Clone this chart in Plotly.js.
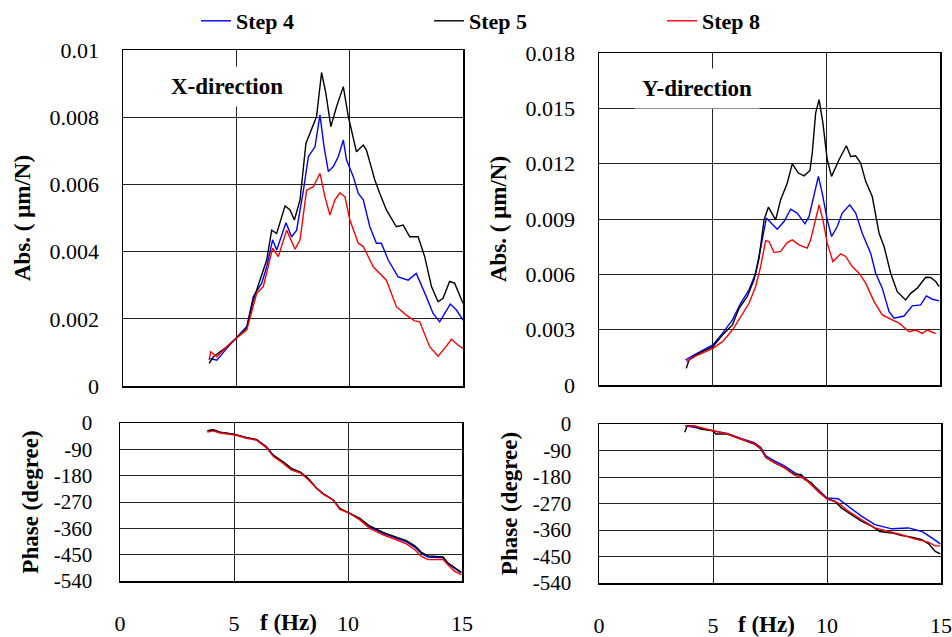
<!DOCTYPE html>
<html>
<head>
<meta charset="utf-8">
<script src="https://cdn.plot.ly/plotly-3.0.1.min.js"></script>
<style>html,body{margin:0;padding:0;background:#fff;}#chart{width:952px;height:637px;}</style>
</head>
<body>
<div id="chart"></div>
<script>
// ---------- X-direction amplitude ----------
const xAbsFreq4 = [3.85,4.14,4.58,5.0,5.46,5.75,6.12,6.34,6.60,6.78,7.19,7.44,7.66,7.96,8.18,8.47,8.69,8.87,9.06,9.28,9.50,9.72,9.86,10.16,10.38,10.60,10.89,11.18,11.40,11.70,12.14,12.58,12.94,13.38,13.68,13.97,14.19,14.44,14.71,15.0];
const xAbsStep4 = [0.00082,0.00077,0.00112,0.00142,0.00177,0.00266,0.00306,0.00355,0.00435,0.00405,0.00486,0.00444,0.00464,0.00583,0.00683,0.00712,0.00807,0.00712,0.00638,0.00653,0.00683,0.00732,0.00673,0.00623,0.00573,0.00554,0.00474,0.00425,0.00425,0.00375,0.00325,0.00315,0.00335,0.00266,0.00216,0.00191,0.00216,0.00244,0.00226,0.00196];
const xAbsFreq5 = [3.80,3.99,4.58,5.0,5.46,5.75,6.05,6.34,6.56,6.78,7.15,7.37,7.56,7.81,8.07,8.32,8.54,8.76,8.95,9.17,9.42,9.72,9.94,10.30,10.60,10.74,11.11,11.33,11.62,12.06,12.36,12.65,13.02,13.31,13.61,13.90,14.12,14.41,14.63,15.0];
const xAbsStep5 = [0.00067,0.00087,0.00117,0.00142,0.00172,0.00256,0.00315,0.00375,0.00464,0.00454,0.00536,0.00524,0.00494,0.00554,0.00722,0.00767,0.00802,0.00933,0.00871,0.00772,0.00831,0.00891,0.00802,0.00697,0.00717,0.00702,0.00613,0.00573,0.00524,0.00474,0.00479,0.00444,0.00444,0.00385,0.00296,0.00251,0.00261,0.00311,0.00306,0.00246];
const xAbsFreq8 = [3.80,3.87,4.14,4.58,5.0,5.46,5.90,6.19,6.60,6.85,7.22,7.59,7.81,8.10,8.40,8.69,8.91,9.13,9.35,9.57,9.79,10.01,10.38,10.60,11.04,11.26,11.62,12.06,12.50,12.87,13.09,13.53,13.90,14.19,14.49,14.78,15.0];
const xAbsStep8 = [0.00077,0.00102,0.00087,0.00117,0.00142,0.00167,0.00276,0.00296,0.00410,0.00385,0.00464,0.00407,0.00435,0.00583,0.00593,0.00633,0.00563,0.00509,0.00554,0.00575,0.00563,0.00494,0.00425,0.00415,0.00355,0.00340,0.00315,0.00236,0.00211,0.00194,0.00191,0.00117,0.00089,0.00112,0.00139,0.00122,0.00112];

// ---------- Y-direction amplitude ----------
const yAbsFreq4 = [3.81,4.25,5.01,5.43,5.87,6.23,6.60,6.89,7.18,7.36,7.55,7.84,8.14,8.43,8.72,9.06,9.24,9.46,9.65,9.82,10.04,10.23,10.48,10.70,11.03,11.29,11.58,11.95,12.17,12.46,12.76,12.98,13.42,13.78,14.15,14.40,14.66,14.96];
const yAbsStep4 = [0.00136,0.00168,0.00217,0.00280,0.00353,0.00443,0.00516,0.00606,0.00787,0.00905,0.00881,0.00845,0.00886,0.00953,0.00932,0.00874,0.00914,0.01040,0.01131,0.01040,0.00895,0.00805,0.00859,0.00932,0.00977,0.00932,0.00823,0.00715,0.00606,0.00525,0.00398,0.00362,0.00374,0.00429,0.00434,0.00483,0.00465,0.00456];
const yAbsFreq5 = [3.84,3.96,4.25,4.69,5.01,5.43,5.87,6.16,6.52,6.82,7.04,7.26,7.45,7.77,7.99,8.28,8.50,8.77,9.02,9.28,9.38,9.53,9.68,9.85,10.04,10.23,10.56,10.88,11.07,11.29,11.51,11.73,12.02,12.32,12.54,12.83,13.12,13.49,13.71,14.00,14.37,14.59,14.81,14.96];
const yAbsStep5 = [0.00090,0.00136,0.00163,0.00190,0.00208,0.00271,0.00326,0.00416,0.00479,0.00570,0.00687,0.00895,0.00964,0.00895,0.01004,0.01094,0.01199,0.01149,0.01134,0.01163,0.01257,0.01474,0.01547,0.01420,0.01221,0.01131,0.01221,0.01297,0.01239,0.01243,0.01203,0.01104,0.01022,0.00823,0.00751,0.00606,0.00506,0.00461,0.00497,0.00525,0.00584,0.00583,0.00561,0.00534];
const yAbsFreq8 = [3.84,4.25,5.01,5.43,5.87,6.31,6.60,6.89,7.11,7.33,7.48,7.70,7.99,8.28,8.50,8.80,9.16,9.31,9.46,9.68,9.85,10.04,10.29,10.63,10.85,11.14,11.44,11.73,12.10,12.46,12.90,13.20,13.64,13.93,14.22,14.44,14.66,14.81];
const yAbsStep8 = [0.00127,0.00157,0.00199,0.00235,0.00298,0.00389,0.00443,0.00534,0.00642,0.00783,0.00778,0.00718,0.00724,0.00772,0.00787,0.00760,0.00742,0.00787,0.00859,0.00977,0.00895,0.00769,0.00669,0.00711,0.00697,0.00642,0.00606,0.00552,0.00452,0.00380,0.00353,0.00335,0.00289,0.00298,0.00280,0.00298,0.00286,0.00280];

// ---------- X-direction phase ----------
const xPhFreq = [3.83,4.09,4.38,5.04,5.55,5.99,6.43,6.72,7.16,7.52,7.89,8.25,8.62,8.91,9.35,9.64,10.01,10.52,10.95,11.54,12.12,12.56,12.93,13.22,13.51,14.17,14.39,14.68,14.97];
const xPhStep4 = [-26,-24,-31,-39,-50,-57,-82,-111,-134,-157,-168,-190,-223,-242,-263,-293,-306,-328,-355,-377,-393,-406,-424,-446,-458,-461,-481,-498,-512];
const xPhStep5 = [-27,-23,-31,-39,-50,-57,-82,-110,-133,-155,-167,-189,-223,-241,-263,-292,-306,-326,-352,-374,-390,-402,-420,-442,-454,-458,-479,-496,-510];
const xPhStep8 = [-31,-27,-34,-41,-52,-59,-85,-114,-138,-161,-170,-193,-223,-243,-263,-295,-306,-331,-360,-382,-399,-413,-433,-456,-467,-467,-485,-507,-518];

// ---------- Y-direction phase ----------
const yPhFreq4 = [3.79,4.16,5.0,5.63,6.22,6.81,7.10,7.32,7.69,8.13,8.57,9.01,9.60,10.0,10.49,10.93,11.51,12.10,12.84,13.57,14.16,14.60,14.97];
const yPhStep4 = [-6,-11,-23,-32,-49,-63,-80,-108,-125,-142,-165,-182,-222,-251,-254,-279,-313,-342,-356,-353,-365,-387,-407];
const yPhFreq5 = [3.76,3.87,4.16,4.46,5.0,5.12,5.63,6.22,6.81,7.10,7.32,7.69,8.13,8.57,8.87,9.01,9.31,9.60,10.0,10.34,10.63,11.07,11.51,11.96,12.32,12.84,13.28,13.72,14.16,14.46,14.75,14.97];
const yPhStep5 = [-28,-6,-6,-17,-23,-34,-34,-51,-68,-85,-114,-131,-148,-171,-171,-188,-199,-228,-254,-262,-285,-308,-330,-347,-365,-370,-379,-384,-393,-407,-433,-441];
const yPhFreq8 = [3.79,4.16,5.0,5.63,6.22,6.81,7.10,7.32,7.69,8.13,8.57,9.01,9.60,10.0,10.49,10.93,11.51,12.10,12.69,13.28,13.87,14.46,14.75,14.97];
const yPhStep8 = [-8,-6,-23,-34,-51,-66,-83,-114,-131,-148,-174,-185,-228,-254,-268,-296,-325,-353,-365,-376,-391,-402,-414,-414];

// ---------- axis tick labels ----------
const freqTickVals = [0,5,10,15];
const freqTickText = ['0','5','10','15'];
const phaseTickVals = [0,-90,-180,-270,-360,-450,-540];
const phaseTickText = ['0','-90','-180','-270','-360','-450','-540'];
const seriesNames = ['Step 4','Step 5','Step 8'];
const seriesColors = ['#0000FF','#000000','#FF0000'];

const FONT = 'Liberation Serif, Times New Roman, Times, DejaVu Serif, serif';
const LW = 1.4;

function tr(x, y, i, xa, ya, show) {
  return {x: x, y: y, type: 'scatter', mode: 'lines', name: seriesNames[i],
    legendgroup: seriesNames[i], showlegend: show,
    line: {color: seriesColors[i], width: LW}, xaxis: xa, yaxis: ya};
}

const data = [
  tr(xAbsFreq4, xAbsStep4, 0, 'x', 'y', true),
  tr(xAbsFreq5, xAbsStep5, 1, 'x', 'y', true),
  tr(xAbsFreq8, xAbsStep8, 2, 'x', 'y', true),
  tr(yAbsFreq4, yAbsStep4, 0, 'x2', 'y2', false),
  tr(yAbsFreq5, yAbsStep5, 1, 'x2', 'y2', false),
  tr(yAbsFreq8, yAbsStep8, 2, 'x2', 'y2', false),
  tr(xPhFreq, xPhStep4, 0, 'x3', 'y3', false),
  tr(xPhFreq, xPhStep5, 1, 'x3', 'y3', false),
  tr(xPhFreq, xPhStep8, 2, 'x3', 'y3', false),
  tr(yPhFreq4, yPhStep4, 0, 'x4', 'y4', false),
  tr(yPhFreq5, yPhStep5, 1, 'x4', 'y4', false),
  tr(yPhFreq8, yPhStep8, 2, 'x4', 'y4', false)
];

const W = 952, H = 637;
function dx(a, b) { return [a / W, b / W]; }
function dy(top, bot) { return [1 - bot / H, 1 - top / H]; }

const gridCol = '#222';
function xaxisDef(dom, anchor, labels) {
  return {domain: dom, anchor: anchor, range: [0, 15], tickvals: freqTickVals, ticktext: freqTickText,
    showticklabels: labels, ticks: '', showgrid: true, gridcolor: gridCol, gridwidth: 1,
    showline: true, linecolor: '#000', linewidth: 1.5, mirror: true, zeroline: false,
    ticklabeloverflow: 'allow',
    ticklabelstandoff: 22, tickfont: {family: FONT, size: 22, color: '#000'}, fixedrange: true};
}
function yaxisDef(dom, anchor, range, extra) {
  return Object.assign({domain: dom, anchor: anchor, range: range, ticks: '', showgrid: true,
    gridcolor: gridCol, gridwidth: 1, showline: true, linecolor: '#000', linewidth: 1.5, mirror: true,
    zeroline: false, ticklabelstandoff: 18, tickfont: {family: FONT, size: 22, color: '#000'},
    fixedrange: true}, extra);
}

const absTitle = {text: 'Abs. ( μm/N)', font: {family: FONT, size: 23, color: '#000', weight: 'bold'}, standoff: 12};
const phTitle = {text: 'Phase (degree)', font: {family: FONT, size: 23, color: '#000', weight: 'bold'}, standoff: 8};

const layout = {
  width: W, height: H,
  margin: {l: 0, r: 0, t: 0, b: 0},
  paper_bgcolor: '#fff', plot_bgcolor: '#fff',
  font: {family: FONT, color: '#000'},
  showlegend: true,
  legend: {orientation: 'h', x: 196 / W, xanchor: 'left', y: 1 - 21 / H, yanchor: 'middle',
    entrywidth: 188, entrywidthmode: 'pixels', font: {family: FONT, size: 22, color: '#000', weight: 'bold'},
    bgcolor: 'rgba(0,0,0,0)', itemclick: false, itemdoubleclick: false},
  xaxis: xaxisDef(dx(123, 463), 'y', false),
  yaxis: yaxisDef(dy(50, 386), 'x', [0, 0.01], {dtick: 0.002, tick0: 0, title: absTitle}),
  xaxis2: xaxisDef(dx(599, 940), 'y2', false),
  yaxis2: yaxisDef(dy(53, 385), 'x2', [0, 0.018], {dtick: 0.003, tick0: 0, title: absTitle}),
  xaxis3: xaxisDef(dx(120, 462), 'y3', true),
  yaxis3: yaxisDef(dy(423, 581), 'x3', [-540, 0], {tickvals: phaseTickVals, ticktext: phaseTickText,
    tickfont: {family: FONT, size: 21, color: '#000'}, ticklabelstandoff: 22, title: phTitle}),
  xaxis4: xaxisDef(dx(599, 941), 'y4', true),
  yaxis4: yaxisDef(dy(424, 583), 'x4', [-540, 0], {tickvals: phaseTickVals, ticktext: phaseTickText,
    tickfont: {family: FONT, size: 21, color: '#000'}, ticklabelstandoff: 22, title: phTitle}),
  annotations: [
    {text: '<b>X-direction</b>', xref: 'paper', yref: 'paper', x: 227 / W, y: 1 - 86 / H,
      xanchor: 'center', yanchor: 'middle', showarrow: false, bgcolor: '#fff', borderpad: 7,
      font: {family: FONT, size: 23, color: '#000'}},
    {text: '<b>Y-direction</b>', xref: 'paper', yref: 'paper', x: 697 / W, y: 1 - 88 / H,
      xanchor: 'center', yanchor: 'middle', showarrow: false, bgcolor: '#fff', borderpad: 7,
      font: {family: FONT, size: 23, color: '#000'}},
    {text: '<b>f (Hz)</b>', xref: 'paper', yref: 'paper', x: 288 / W, y: 1 - 622 / H,
      xanchor: 'center', yanchor: 'middle', showarrow: false,
      font: {family: FONT, size: 23, color: '#000'}},
    {text: '<b>f (Hz)</b>', xref: 'paper', yref: 'paper', x: 766 / W, y: 1 - 624 / H,
      xanchor: 'center', yanchor: 'middle', showarrow: false,
      font: {family: FONT, size: 23, color: '#000'}}
  ]
};

Plotly.newPlot('chart', data, layout, {displayModeBar: false, staticPlot: true});
</script>
</body>
</html>
